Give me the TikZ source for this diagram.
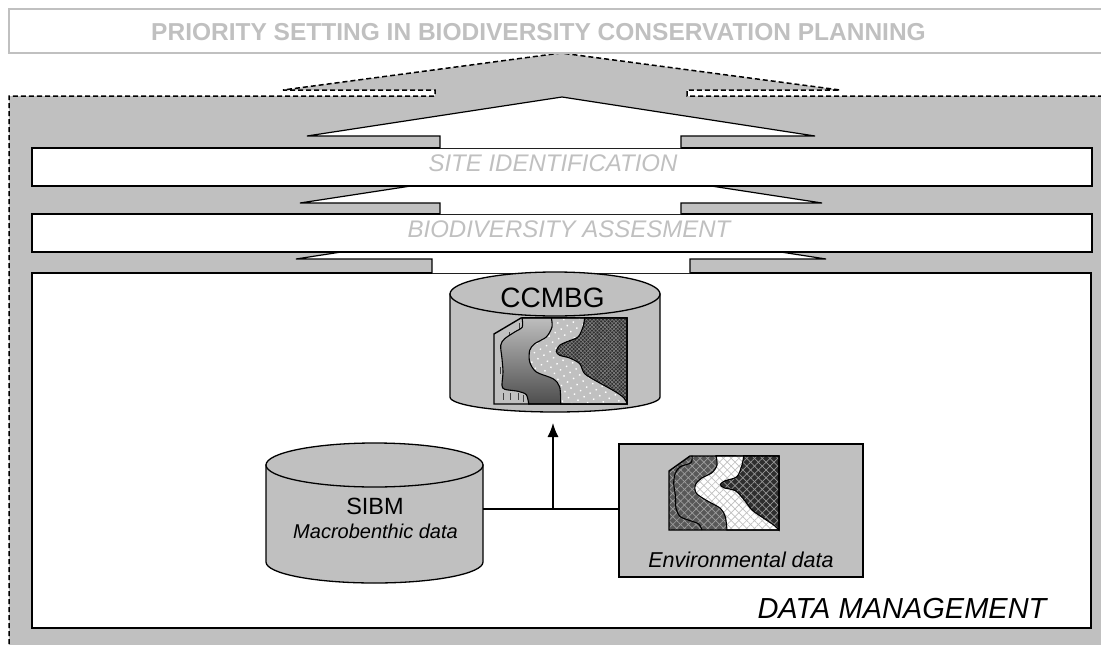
\documentclass[tikz,border=0pt]{standalone}
\usepackage{fontspec}
\setmainfont{Liberation Sans}
\usetikzlibrary{arrows.meta, patterns.meta}
\definecolor{boxgray}{RGB}{192,192,192}
\definecolor{midgray}{RGB}{88,88,88}
\definecolor{deepgray}{RGB}{46,46,46}
\definecolor{gradtop}{RGB}{190,190,190}
\definecolor{gradbottom}{RGB}{78,78,78}
\tikzset{
	panel/.style={draw=black, line width=1.5pt, fill=white, inner sep=0pt, anchor=north west},
	graylabel/.style={anchor=base, text=boxgray, font=\fontsize{24}{28}\selectfont\itshape},
	arrowline/.style={draw=black, line width=1.2pt, line join=miter, fill=white},
	cyl/.style={draw=black, line width=1.3pt, fill=boxgray},
	link/.style={draw=black, line width=1.3pt},
	border/.style={draw=black, line width=1.1pt},
	mesh/.style 2 args={preaction={fill=#1}, preaction={pattern color=#2, pattern={Lines[angle=45, distance=5.5pt, line width=0.7pt]}}, pattern color=#2, pattern={Lines[angle=-45, distance=5.5pt, line width=0.7pt]}},
	speckled/.style={preaction={fill=boxgray}, pattern color=white, pattern={Dots[distance=7pt, radius=1pt, angle=30]}},
	brick/.style={preaction={fill=deepgray}, preaction={pattern color=gray, pattern={Lines[angle=45, distance=2.6pt, line width=0.6pt]}}, pattern color=gray, pattern={Lines[angle=-45, distance=2.6pt, line width=0.6pt]}}
}
\begin{document}
\begin{tikzpicture}[x=1pt, y=-1pt]
	\clip (0,0) rectangle (1101,645);
	
	\draw[fill=boxgray, line width=1.5pt, dash pattern=on 5pt off 3pt] (9,700) -- (9,96) -- (435,96) -- (435,90) -- (283,90) -- (561,53) -- (840,90) -- (687,90) -- (687,96) -- (1150,96) -- (1150,700);
	
	\node (titlebox) [draw=boxgray, line width=1.5pt, minimum width=1120pt, minimum height=44pt, inner sep=0pt, anchor=north west] at (8,8) {};
	\node (title) [anchor=base, text=boxgray, font=\fontsize{24.5}{28}\selectfont\bfseries] at (538.5,40) {PRIORITY SETTING IN BIODIVERSITY CONSERVATION PLANNING};
	
	\node (datamgmt) [panel, minimum width=1059pt, minimum height=355pt] at (31,272) {};
	\draw[arrowline] (432,273) -- (432,259) -- (296,259) -- (561,218) -- (826,259) -- (690,259) -- (690,273);
	
	\node (assess) [panel, minimum width=1060pt, minimum height=38pt] at (31,213) {};
	\draw[arrowline] (440,214) -- (440,203) -- (300,203) -- (561,163) -- (822,203) -- (681,203) -- (681,214);
	
	\node (site) [panel, minimum width=1060pt, minimum height=38pt] at (31,147) {};
	\draw[arrowline] (440,148) -- (440,136) -- (307,136) -- (562,97) -- (815,136) -- (681,136) -- (681,148);
	
	\node (sitetext) [graylabel] at (553,171.7) {SITE IDENTIFICATION};
	\node (assesstext) [graylabel] at (569,237.7) {BIODIVERSITY ASSESMENT};
	
	\draw[cyl] (450,294) -- (450,397) arc[start angle=180, end angle=0, x radius=105, y radius=15] -- (660,294) -- cycle;
	\draw[cyl] (555,294) ellipse[x radius=105, y radius=22];
	\node (ccmbg) [anchor=base, font=\fontsize{28}{32}\selectfont] at (552.5,307) {CCMBG};
	
	\path[fill=boxgray] (494,404) -- (494,334) -- (521,318) -- (627,318) -- (627,404) -- cycle;
	\foreach \x/\y in {519.5/323, 509.5/332, 500.5/367, 503/393, 510.5/393, 518.5/393, 523.5/395}
		\draw[line width=1pt, black!75] (\x,\y) -- ++(0,7);
	\path[border, top color=gradtop, bottom color=gradbottom] plot[smooth] coordinates {(522,317.7) (522.3,327) (514.7,332) (504.7,338.7) (500.7,345.3) (502,358.7) (503,372) (502,385.3) (504.7,389.3) (518,391.3) (526.3,394.7) (528.7,404)} -- (627,404) -- (627,318) -- cycle;
	\path[border, speckled] plot[smooth] coordinates {(551.3,317.7) (552,327) (546.3,337) (534.7,343.7) (529.7,350.3) (529.7,362) (536.3,372) (553,378.7) (559.7,387) (560.7,404)} -- (627,404) -- (627,318) -- cycle;
	\path[border, brick] plot[smooth] coordinates {(584.7,317.7) (583,327) (578,337) (568,341.3) (559.7,345.3) (556.3,351.3) (559.7,355.3) (569.7,358) (579.7,363.7) (584.7,373.7) (598,382) (613,390.3) (623,397) (627,403)} -- (627,318) -- cycle;
	\draw[line width=1.4pt] (494,404) -- (494,334) -- (521,318) -- (627,318) -- (627,404) -- cycle;
	
	\draw[cyl] (266,465) -- (266,562) arc[start angle=180, end angle=0, x radius=108.5, y radius=21] -- (483,465) -- cycle;
	\draw[cyl] (374.5,465) ellipse[x radius=108.5, y radius=22];
	\node (sibm) [anchor=base, font=\fontsize{23.5}{28}\selectfont] at (375,514) {SIBM};
	\node (macro) [anchor=base, font=\fontsize{20}{24}\selectfont\itshape] at (375.5,538) {Macrobenthic data};
	
	\node (env) [draw=black, fill=boxgray, line width=1.5pt, minimum width=244pt, minimum height=133pt, inner sep=0pt, anchor=north west] at (618,443) {};
	\path[mesh={midgray}{gray!75}] (669,530) -- (669,471) -- (690,456) -- (779,456) -- (779,530) -- cycle;
	\path[border, mesh={white}{boxgray}] plot[smooth] coordinates {(716,455.7) (717,465) (712,472.7) (701.3,478.3) (695.3,485) (696.3,493.3) (707,500.7) (720.3,508.3) (725.3,516.7) (727,530)} -- (779,530) -- (779,456) -- cycle;
	\path[border, mesh={deepgray}{gray!80}] plot[smooth] coordinates {(743.7,455.7) (742,465) (737,476.7) (725.3,480.7) (720.3,484.3) (723.7,487.7) (735.3,490.7) (743.7,499.3) (752,510) (763.7,518.3) (773.7,525) (779,530)} -- (779,456) -- cycle;
	\draw[border] plot[smooth] coordinates {(692,455.7) (691,462.7) (680.3,466.7) (675.3,473.3) (673.7,483.3) (675.3,495) (676,508.3) (680.3,516.7) (690.3,520.7) (698.7,524) (702,530)};
	\draw[line width=1.4pt] (669,530) -- (669,471) -- (690,456) -- (779,456) -- (779,530) -- cycle;
	\node (envtext) [anchor=base, font=\fontsize{21.5}{26}\selectfont\itshape] at (741,567) {Environmental data};
	
	\coordinate (sibmside) at (483,509);
	\coordinate (ccmbgbase) at (553,412);
	\draw[link] (sibmside) -- (sibmside -| env.west);
	\draw[link, -{Latex[length=14pt, width=11pt]}, shorten >=11pt] (ccmbgbase |- sibmside) -- (ccmbgbase);
	
	\node (dmtext) [anchor=base east, font=\fontsize{29}{34}\selectfont\itshape] at (1050,618) {DATA MANAGEMENT};
\end{tikzpicture}
\end{document}
